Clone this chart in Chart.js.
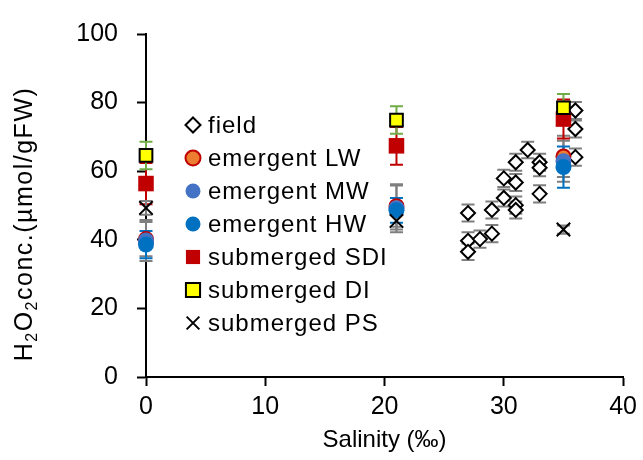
<!DOCTYPE html>
<html>
<head>
<meta charset="utf-8">
<script src="https://cdn.jsdelivr.net/npm/chart.js@4"></script>
<style>
  body { margin: 0; background: #fff; }
  canvas { display: block; }
</style>
</head>
<body>
<canvas id="h2o2Chart" width="643" height="460"></canvas>
<script>
// salinity of the culture treatments (‰)
const treatSalinity = [0, 21, 35]

// treatment means and error bars
const lwMean = [40.2, 49.8, 64.3]
const lwErr = [5, 6, 6]
const mwMean = [39.8, 49.2, 62.9]
const mwErr = [6, 7, 6]
const hwMean = [38.6, 48.6, 61.2]
const hwErr = [4, 3.6, 6]
const sdiMean = [56.4, 67.4, 75.2]
const sdiErr = [6, 5.5, 5.7]
const diMean = [64.6, 74.9, 78.5]
const diErr = [4, 4, 4]
const psMean = [49.3, 45.5, 43]
const psErr = [2, 2.5, 1.2]

// field samples
const fieldSalinity = [27, 27, 27, 28, 29, 29, 30, 30, 31, 31, 31, 31, 32, 33, 33, 33, 36, 36, 36]
const fieldMean = [47.8, 39.7, 36.5, 40.2, 48.7, 41.8, 57.9, 52.2, 62.6, 56.7, 50.1, 48.7, 66.2, 62.6, 61.0, 53.4, 77.7, 72.3, 64.1]
const fieldErr = [2.5, 2.5, 2.4, 2.5, 2.5, 2.5, 2.5, 2.5, 2.5, 2.5, 2.5, 2.5, 2.4, 2.5, 2.5, 2.5, 2.5, 2.5, 2.5]

const xTicks = [0, 10, 20, 30, 40]
const yTicks = [0, 20, 40, 60, 80, 100]

const FONT = "'Liberation Sans', Arial, sans-serif"

const pts = (xs, ys) => xs.map((x, i) => ({x: x, y: ys[i]}))

const series = [
    {label: 'field', data: pts(fieldSalinity, fieldMean), errors: fieldErr, errorColor: '#7f7f7f',
        pointStyle: 'rectRot', pointRadius: 7, backgroundColor: '#ffffff', borderColor: '#000000', borderWidth: 2},
    {label: 'emergent LW', data: pts(treatSalinity, lwMean), errors: lwErr, errorColor: '#7f7f7f',
        pointStyle: 'circle', pointRadius: 7, backgroundColor: '#ed7d31', borderColor: '#c00000', borderWidth: 2},
    {label: 'emergent MW', data: pts(treatSalinity, mwMean), errors: mwErr, errorColor: '#7f7f7f',
        pointStyle: 'circle', pointRadius: 8, backgroundColor: '#4472c4', borderColor: '#4472c4', borderWidth: 0},
    {label: 'emergent HW', data: pts(treatSalinity, hwMean), errors: hwErr, errorColor: '#0070c0',
        pointStyle: 'circle', pointRadius: 8, backgroundColor: '#0070c0', borderColor: '#0070c0', borderWidth: 0},
    {label: 'submerged SDI', data: pts(treatSalinity, sdiMean), errors: sdiErr, errorColor: '#c00000',
        pointStyle: 'rect', pointRadius: 11, backgroundColor: '#c00000', borderColor: '#c00000', borderWidth: 0},
    {label: 'submerged DI', data: pts(treatSalinity, diMean), errors: diErr, errorColor: '#70ad47',
        pointStyle: 'rect', pointRadius: 9, backgroundColor: '#ffff00', borderColor: '#000000', borderWidth: 2},
    {label: 'submerged PS', data: pts(treatSalinity, psMean), errors: psErr, errorColor: '#7f7f7f',
        pointStyle: 'crossRot', pointRadius: 9.5, backgroundColor: '#000000', borderColor: '#000000', borderWidth: 2},
]

const datasets = series.map((s, i) => Object.assign({}, s, {
    pointHoverRadius: s.pointRadius,
    showLine: false,
    clip: false,
    order: series.length - i,
}))

// vertical error bars, drawn under the markers
const errorBars = {
    id: 'errorBars',
    beforeDatasetsDraw(chart) {
        const {ctx, scales: {x, y}} = chart
        chart.data.datasets.forEach(ds => {
            ctx.save()
            ctx.strokeStyle = ds.errorColor
            ctx.lineWidth = 2
            ds.data.forEach((p, j) => {
                const px = x.getPixelForValue(p.x)
                const top = y.getPixelForValue(p.y + ds.errors[j])
                const bot = y.getPixelForValue(p.y - ds.errors[j])
                ctx.beginPath()
                ctx.moveTo(px, top); ctx.lineTo(px, bot)
                ctx.moveTo(px - 6.5, top); ctx.lineTo(px + 6.5, top)
                ctx.moveTo(px - 6.5, bot); ctx.lineTo(px + 6.5, bot)
                ctx.stroke()
            })
            ctx.restore()
        })
    }
}

// legend inside the plot and the y title with subscripts
const extras = {
    id: 'extras',
    afterDraw(chart) {
        const ctx = chart.ctx
        ctx.save()
        chart.data.datasets.forEach((ds, i) => {
            const cx = 193
            const cy = 125 + i * 33
            ctx.fillStyle = ds.backgroundColor
            ctx.strokeStyle = ds.borderColor
            ctx.lineWidth = ds.borderWidth
            const r = ds.pointStyle === 'rect' ? 10 : ds.pointStyle === 'crossRot' ? 9 : 7.5
            Chart.helpers.drawPoint(ctx, {pointStyle: ds.pointStyle, radius: r, borderWidth: ds.borderWidth, rotation: 0}, cx, cy)
            ctx.fillStyle = '#000'
            ctx.font = '24px ' + FONT
            ctx.letterSpacing = '1px'
            ctx.textBaseline = 'middle'
            ctx.textAlign = 'left'
            ctx.fillText(ds.label, 208, cy + 1)
        })

        // y title
        const parts = [['H', 0], ['2', 1], ['O', 0], ['2', 1], ['conc.(\u00b5mol/gFW)', 0]]
        const big = '25px ' + FONT
        const small = '16px ' + FONT
        ctx.letterSpacing = '1.5px'
        let total = 0
        parts.forEach(p => { ctx.font = p[1] ? small : big; total += ctx.measureText(p[0]).width })
        ctx.translate(32, 224)
        ctx.rotate(-Math.PI / 2)
        ctx.textBaseline = 'alphabetic'
        ctx.textAlign = 'left'
        ctx.fillStyle = '#000'
        let pos = -total / 2
        parts.forEach(p => {
            ctx.font = p[1] ? small : big
            ctx.fillText(p[0], pos, p[1] ? 5 : 0)
            pos += ctx.measureText(p[0]).width
        })
        ctx.restore()
    }
}

const chartConfig = {
    type: 'scatter',
    data: {datasets: datasets},
    options: {
        responsive: false,
        animation: false,
        layout: {padding: {top: 24, right: 17, bottom: 0, left: 0}},
        plugins: {
            legend: {display: false},
            tooltip: {enabled: false},
        },
        scales: {
            x: {
                type: 'linear',
                min: xTicks[0],
                max: xTicks[xTicks.length - 1],
                afterBuildTicks: s => { s.ticks = xTicks.map(v => ({value: v})) },
                afterFit: s => { s.height = 83 },
                grid: {drawOnChartArea: false, drawTicks: true, tickLength: 9, tickColor: '#000', tickWidth: 2},
                border: {color: '#000', width: 2},
                ticks: {color: '#000', padding: 6, font: {family: FONT, size: 25}},
                title: {display: true, text: 'Salinity (\u2030)', color: '#000', font: {family: FONT, size: 24}, padding: {top: 0, bottom: 5}},
            },
            y: {
                type: 'linear',
                min: yTicks[0],
                max: yTicks[yTicks.length - 1],
                afterBuildTicks: s => { s.ticks = yTicks.map(v => ({value: v})) },
                afterFit: s => { s.width = 146 },
                grid: {drawOnChartArea: false, drawTicks: true, tickLength: 9, tickColor: '#000', tickWidth: 2},
                border: {color: '#000', width: 2},
                ticks: {color: '#000', padding: 19, font: {family: FONT, size: 25}},
            },
        },
    },
    plugins: [errorBars, extras],
}

const ctx = document.getElementById('h2o2Chart')
const h2o2Chart = new Chart(ctx, chartConfig)
</script>
</body>
</html>
